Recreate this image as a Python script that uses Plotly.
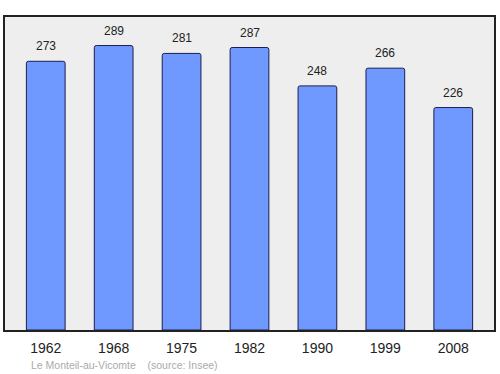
import plotly.graph_objects as go

years = ["1962", "1968", "1975", "1982", "1990", "1999", "2008"]
population = [273, 289, 281, 287, 248, 266, 226]

fig = go.Figure()
fig.add_trace(go.Bar(
    x=list(range(len(years))), y=population, width=0.57,
    marker=dict(color="#7099ff", line=dict(color="#1c1c50", width=1), cornerradius=2),
    hoverinfo="skip",
))
for i, v in enumerate(population):
    fig.add_annotation(x=i, y=v, text=str(v), showarrow=False, yanchor="bottom",
                       yshift=6, font=dict(size=12, color="#222222"))

fig.add_annotation(xref="paper", yref="paper", x=0.049, y=-0.113, xanchor="left", yanchor="middle",
                   text="Le Monteil-au-Vicomte    (source: Insee)", showarrow=False,
                   font=dict(size=10.5, color="#aaaaaa"))

fig.update_layout(
    width=500, height=374,
    margin=dict(l=5, r=6, t=17, b=44),
    paper_bgcolor="white", plot_bgcolor="#eeeeee",
    font=dict(family="Liberation Sans, Arial, sans-serif"),
    showlegend=False,
    xaxis=dict(range=[-0.6, 6.6], tickmode="array", tickvals=list(range(len(years))), ticktext=years,
               tickfont=dict(size=14, color="#222222"), ticks="outside", ticklen=4,
               tickcolor="rgba(0,0,0,0)", showgrid=False, zeroline=False,
               showline=True, linecolor="#222222", linewidth=1.5, mirror=True),
    yaxis=dict(range=[0, 318], showticklabels=False, showgrid=False, zeroline=False,
               showline=True, linecolor="#222222", linewidth=1.5, mirror=True),
)
fig.write_html("out.html")
